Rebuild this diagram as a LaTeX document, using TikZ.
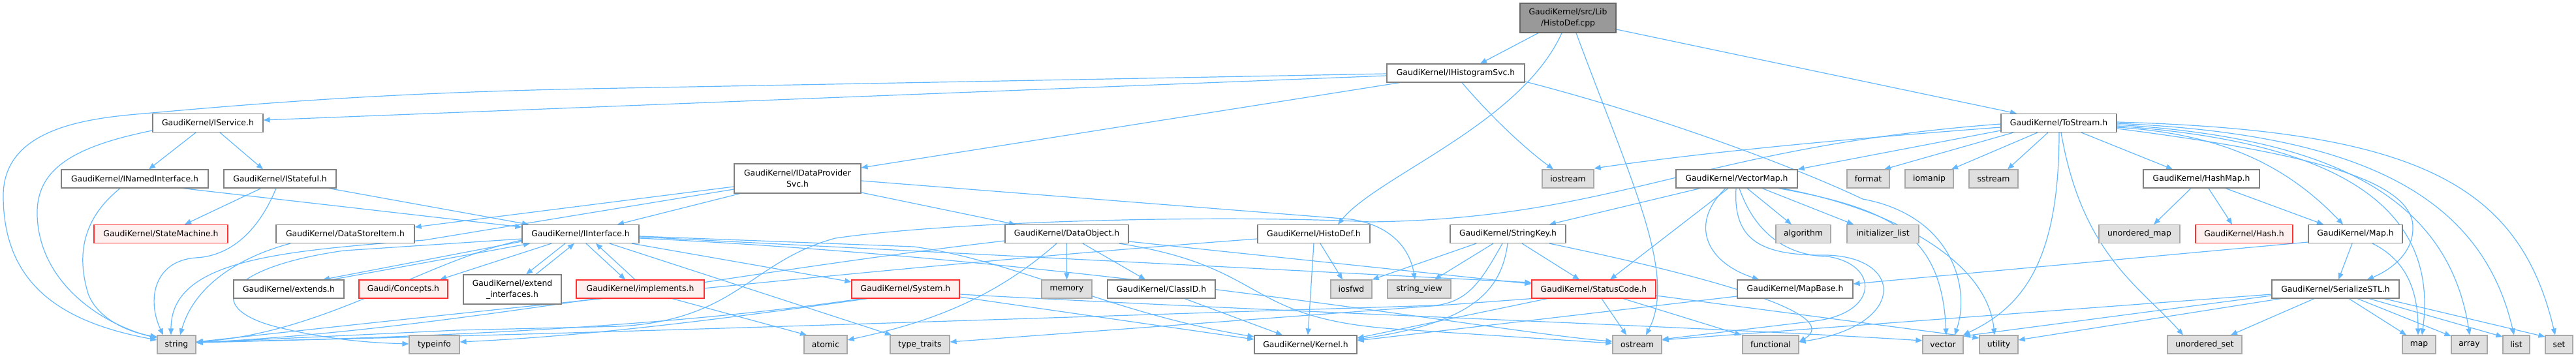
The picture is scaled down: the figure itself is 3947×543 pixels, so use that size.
\documentclass[tikz,border=0pt]{standalone}
\usepackage{fontspec}
\setmainfont{DejaVu Sans}
\usetikzlibrary{arrows.meta}
\definecolor{ec}{HTML}{63B8FF}
\definecolor{nbd}{HTML}{808080}
\definecolor{gbd}{HTML}{A8A8A8}
\definecolor{gfill}{HTML}{E0E0E0}
\definecolor{rbd}{HTML}{FF3030}
\definecolor{rfill}{HTML}{FFF0F0}
\definecolor{rootfill}{HTML}{999999}
\definecolor{rootbd}{HTML}{666666}
\pgfdeclarelayer{bg}
\pgfsetlayers{bg,main}
\begin{document}
\begin{tikzpicture}[x=0.5pt,y=-0.5pt,
  every node/.style={font=\fontsize{6.2}{8.7}\selectfont, inner sep=0pt, minimum height=14pt, line width=0.6pt, align=center},
  wn/.style={draw=nbd, fill=white},
  gn/.style={draw=gbd, fill=gfill},
  rn/.style={draw=rbd, fill=rfill},
  rootn/.style={draw=rootbd, fill=rootfill},
  e/.style={draw=ec, line width=0.6pt, -{Triangle[length=5pt,width=4pt]}}]
\useasboundingbox (0,0) rectangle (3947,543);
\node[rootn, minimum width=73.5pt, minimum height=22.5pt] (root) at (2402.5,27.5) {GaudiKernel/src/Lib\\/HistoDef.cpp};
\node[wn, minimum width=105.5pt] (ihs) at (2230.5,112) {GaudiKernel/IHistogramSvc.h};
\node[wn, minimum width=84.5pt] (isvc) at (318.5,188.5) {GaudiKernel/IService.h};
\node[wn, minimum width=112.5pt] (ini) at (206.5,274) {GaudiKernel/INamedInterface.h};
\node[wn, minimum width=86pt] (ist) at (429,274) {GaudiKernel/IStateful.h};
\node[rn, minimum width=102.5pt] (sm) at (246.5,358.5) {GaudiKernel/StateMachine.h};
\node[wn, minimum width=106pt] (dsi) at (529,358.5) {GaudiKernel/DataStoreItem.h};
\node[wn, minimum width=84.5pt] (ext) at (442.5,443) {GaudiKernel/extends.h};
\node[rn, minimum width=68pt] (conc) at (618,443) {Gaudi/Concepts.h};
\node[gn, minimum width=29.5pt] (str) at (270.5,528) {string};
\node[gn, minimum width=38.5pt] (tinfo) at (665.5,528) {typeinfo};
\node[wn, minimum width=97pt, minimum height=22.5pt] (idp) at (1222,273.5) {GaudiKernel/IDataProvider\\Svc.h};
\node[wn, minimum width=89.5pt] (iif) at (889.5,358.5) {GaudiKernel/IInterface.h};
\node[wn, minimum width=75pt, minimum height=22.5pt] (exti) at (785,443.5) {GaudiKernel/extend\\\_interfaces.h};
\node[rn, minimum width=98pt] (impl) at (981,443) {GaudiKernel/implements.h};
\node[rn, minimum width=82.5pt] (sys) at (1387.5,443) {GaudiKernel/System.h};
\node[gn, minimum width=33pt] (atom) at (1265,528) {atomic};
\node[gn, minimum width=45.5pt] (ttr) at (1409.5,528) {type\_traits};
\node[wn, minimum width=94.5pt] (dobj) at (1634.5,358.5) {GaudiKernel/DataObject.h};
\node[wn, minimum width=86pt] (hdef) at (2013,358.5) {GaudiKernel/HistoDef.h};
\node[gn, minimum width=38.5pt] (mem) at (1634.5,443) {memory};
\node[wn, minimum width=82.5pt] (cid) at (1779.5,443) {GaudiKernel/ClassID.h};
\node[gn, minimum width=31.5pt] (iosfwd) at (2070.5,443) {iosfwd};
\node[wn, minimum width=78.5pt] (kern) at (2000.5,528) {GaudiKernel/Kernel.h};
\node[gn, minimum width=39.5pt] (iostr) at (2402.5,274) {iostream};
\node[wn, minimum width=93pt] (vmap) at (2661,274) {GaudiKernel/VectorMap.h};
\node[wn, minimum width=88.5pt] (skey) at (2310.5,358.5) {GaudiKernel/StringKey.h};
\node[gn, minimum width=42pt] (algo) at (2763,358.5) {algorithm};
\node[gn, minimum width=48.5pt] (sview) at (2174.5,443) {string\_view};
\node[rn, minimum width=95pt] (scode) at (2442,443) {GaudiKernel/StatusCode.h};
\node[wn, minimum width=88.5pt] (mbase) at (2750.5,443) {GaudiKernel/MapBase.h};
\node[gn, minimum width=37.5pt] (ostr) at (2508.5,528) {ostream};
\node[gn, minimum width=43pt] (func) at (2713,528) {functional};
\node[wn, minimum width=88.5pt] (tostr) at (3154.5,188.5) {GaudiKernel/ToStream.h};
\node[gn, minimum width=32.5pt] (fmt) at (2862.5,274) {format};
\node[gn, minimum width=37pt] (iomanip) at (2956,274) {iomanip};
\node[gn, minimum width=37.5pt] (sstr) at (3054.5,274) {sstream};
\node[wn, minimum width=89pt] (hmap) at (3373,274) {GaudiKernel/HashMap.h};
\node[gn, minimum width=55pt] (ilist) at (2885,358.5) {initializer\_list};
\node[gn, minimum width=62pt] (umap) at (3278,358.5) {unordered\_map};
\node[rn, minimum width=74.5pt] (hash) at (3438.5,358.5) {GaudiKernel/Hash.h};
\node[wn, minimum width=72pt] (maph) at (3609,358.5) {GaudiKernel/Map.h};
\node[wn, minimum width=97.5pt] (sstl) at (3578.5,443) {GaudiKernel/SerializeSTL.h};
\node[gn, minimum width=31pt] (vec) at (2977,528) {vector};
\node[gn, minimum width=29.5pt] (util) at (3062.5,528) {utility};
\node[gn, minimum width=57pt] (uset) at (3378,528) {unordered\_set};
\node[gn, minimum width=25.5pt] (mapst) at (3706.5,528) {map};
\node[gn, minimum width=27.5pt] (arr) at (3783.5,528) {array};
\node[gn, minimum width=20.5pt] (lst) at (3855.5,528) {list};
\node[gn, minimum width=21pt] (set) at (3921,528) {set};
\begin{pgfonlayer}{bg}
% root
\draw[e] (root.south -| 2357,0) -- (ihs.north -| 2268,0);
\draw[e] (root.south -| 2393,0) .. controls (2330,190) and (2110,270) .. (hdef.north -| 2050,0);
\draw[e] (root.south -| 2415,0) .. controls (2500,280) and (2570,420) .. (ostr.north -| 2522,0);
\draw[e] (root.east |- 0,45) -- (tostr.north -| 3090,0);
% IHistogramSvc
\draw[e] (ihs.west |- 0,116) -- (isvc.east |- 0,184);
\draw[e] (ihs.west |- 0,113) -- (900,136) .. controls (600,142) and (400,158) .. (232,173) .. controls (150,180) and (5,190) .. (5,300) .. controls (5,440) and (100,495) .. (str.west |- 0,521);
\draw[e] (ihs.south -| 2145,0) -- (idp.east |- 0,257);
\draw[e] (ihs.south -| 2240,0) .. controls (2290,185) and (2340,230) .. (iostr.north -| 2380,0);
\draw[e] (ihs.east |- 0,125) .. controls (2550,180) and (2760,260) .. (2854,305) .. controls (2990,330) and (3020,440) .. (vec.north -| 2995,0);
% IService
\draw[e] (isvc.south -| 300,0) -- (ini.north -| 228,0);
\draw[e] (isvc.south -| 337,0) -- (ist.north -| 403,0);
\draw[e] (isvc.west |- 0,200) .. controls (110,225) and (55,260) .. (57,330) .. controls (60,430) and (150,495) .. (str.west |- 0,518);
% INamedInterface
\draw[e] (ini.south -| 184,0) .. controls (120,340) and (120,400) .. (135,450) .. controls (150,490) and (200,510) .. (str.west |- 0,516);
\draw[e] (ini.south -| 280,0) -- (iif.west |- 0,348);
% IStateful
\draw[e] (ist.south -| 400,0) -- (sm.north -| 283,0);
\draw[e] (ist.south -| 423,0) .. controls (400,345) and (360,392) .. (300,395) .. controls (235,400) and (225,460) .. (str.north -| 250,0);
\draw[e] (ist.south -| 504,0) -- (iif.north -| 810,0);
% IDataProviderSvc
\draw[e] (idp.west |- 0,286) -- (dsi.east |- 0,348);
\draw[e] (idp.south -| 1134,0) -- (iif.north -| 946,0);
\draw[e] (idp.west |- 0,290) -- (650,368) .. controls (420,385) and (262,400) .. (str.north -| 262,0);
\draw[e] (idp.east |- 0,295) -- (dobj.north -| 1556,0);
\draw[e] (idp.east |- 0,277) -- (2070,336) .. controls (2130,345) and (2160,380) .. (sview.north -| 2168,0);
% DataStoreItem
\draw[e] (dsi.south -| 445,0) .. controls (380,390) and (300,430) .. (str.north -| 276,0);
% IInterface
\draw[e] (iif.south -| 866,0) -- (exti.north -| 806,0);
\draw[e] (exti.north -| 821,0) -- (iif.south -| 880,0);
\draw[e] (iif.south -| 898,0) -- (impl.north -| 958,0);
\draw[e] (impl.north -| 973,0) -- (iif.south -| 913,0);
\draw[e] (iif.west |- 0,370) -- (ext.north -| 495,0);
\draw[e] (ext.north -| 509,0) -- (iif.south -| 812,0);
\draw[e] (iif.south -| 845,0) -- (conc.north -| 674,0);
\draw[e] (iif.south -| 968,0) -- (sys.west |- 0,432);
\draw[e] (iif.south -| 934,0) -- (ttr.north -| 1366,0);
\draw[e] (iif.east |- 0,362) -- (1400,378) .. controls (1560,400) and (1700,480) .. (kern.west |- 0,516);
\draw[e] (iif.east |- 0,363) -- (scode.west |- 0,433);
\draw[e] (iif.east |- 0,365) .. controls (1700,400) and (2300,510) .. (ostr.west |- 0,523);
\draw[e] (iif.west |- 0,368) .. controls (650,400) and (500,510) .. (str.east |- 0,524);
\draw[e] (iif.west |- 0,366) -- (527,384) .. controls (345,410) and (310,470) .. (420,500) .. controls (500,520) and (560,525) .. (tinfo.west |- 0,527);
% implements
\draw[e] (impl.south -| 1030,0) -- (atom.north -| 1236,0);
% System
\draw[e] (sys.east |- 0,455) -- (kern.west |- 0,520);
\draw[e] (sys.south -| 1329,0) .. controls (1100,490) and (900,515) .. (tinfo.east |- 0,524);
\draw[e] (sys.south -| 1320,0) .. controls (1000,505) and (600,518) .. (str.east |- 0,525);
\draw[e] (sys.east |- 0,451) .. controls (2000,480) and (2600,500) .. (vec.west |- 0,522);
% DataObject
\draw[e] (dobj.south) -- (mem.north);
\draw[e] (dobj.south -| 1659,0) -- (cid.north -| 1755,0);
\draw[e] (dobj.west |- 0,369) .. controls (1100,420) and (700,505) .. (str.east |- 0,525);
\draw[e] (dobj.south -| 1619,0) .. controls (1520,460) and (1420,495) .. (atom.east |- 0,521);
\draw[e] (dobj.east |- 0,370) -- (scode.west |- 0,435);
\draw[e] (dobj.south -| 1715,0) .. controls (1950,410) and (1900,490) .. (2150,505) -- (ostr.west |- 0,526);
% ClassID
\draw[e] (cid.south -| 1815,0) -- (kern.north -| 1965,0);
% HistoDef
\draw[e] (hdef.south -| 2013,0) -- (kern.north -| 2004,0);
\draw[e] (hdef.south -| 2023,0) -- (iosfwd.north -| 2057,0);
\draw[e] (hdef.west |- 0,366) .. controls (1400,405) and (700,480) .. (str.east |- 0,524);
% StringKey
\draw[e] (skey.south -| 2262,0) -- (iosfwd.north east);
\draw[e] (skey.south -| 2288,0) -- (sview.north -| 2198,0);
\draw[e] (skey.south -| 2332,0) -- (scode.north -| 2420,0);
\draw[e] (skey.south -| 2302,0) .. controls (2270,430) and (2250,462) .. (2200,468) .. controls (1500,490) and (800,515) .. (str.east |- 0,524);
\draw[e] (skey.south -| 2310,0) .. controls (2300,450) and (2250,495) .. (kern.east |- 0,520);
\draw[e] (skey.south -| 2374,0) .. controls (2600,420) and (2830,480) .. (func.east |- 0,524);
% StatusCode
\draw[e] (scode.south -| 2454,0) -- (ostr.north -| 2492,0);
\draw[e] (scode.south -| 2487,0) -- (func.north -| 2668,0);
\draw[e] (scode.south -| 2371,0) -- (kern.east |- 0,518);
\draw[e] (scode.south west) -- (ttr.east |- 0,524);
\draw[e] (scode.east |- 0,453) -- (util.west |- 0,518);
% VectorMap
\draw[e] (vmap.south -| 2605,0) -- (skey.north -| 2374,0);
\draw[e] (vmap.south -| 2648,0) -- (scode.north -| 2467,0);
\draw[e] (vmap.south -| 2644,0) .. controls (2590,340) and (2610,400) .. (mbase.north -| 2695,0);
\draw[e] (vmap.south -| 2677,0) -- (algo.north -| 2745,0);
\draw[e] (vmap.south -| 2700,0) -- (ilist.north -| 2840,0);
\draw[e] (vmap.south -| 2725,0) .. controls (2900,320) and (2975,360) .. (vec.north -| 2982,0);
\draw[e] (vmap.south -| 2730,0) .. controls (2900,320) and (3045,400) .. (util.north -| 3056,0);
\draw[e] (vmap.south -| 2660,0) .. controls (2655,370) and (2700,392) .. (2800,391) .. controls (2920,395) and (2920,500) .. (func.east |- 0,524);
\draw[e] (vmap.south -| 2665,0) .. controls (2690,360) and (2740,392) .. (2800,393) .. controls (2880,405) and (2880,480) .. (2780,492) -- (ostr.east |- 0,520);
% MapBase
\draw[e] (mbase.west |- 0,454) -- (kern.east |- 0,522);
% HashMap
\draw[e] (hmap.south -| 3357,0) -- (umap.north -| 3300,0);
\draw[e] (hmap.south -| 3384,0) -- (hash.north -| 3420,0);
\draw[e] (hmap.south -| 3410,0) -- (maph.north -| 3560,0);
% Map
\draw[e] (maph.west |- 0,371) -- (mbase.east |- 0,435);
\draw[e] (maph.south -| 3604,0) -- (sstl.north -| 3583,0);
\draw[e] (maph.south -| 3635,0) .. controls (3690,400) and (3705,450) .. (mapst.north -| 3705,0);
% SerializeSTL
\draw[e] (sstl.south -| 3546,0) -- (uset.north -| 3418,0);
\draw[e] (sstl.south -| 3599,0) -- (mapst.north -| 3687,0);
\draw[e] (sstl.south -| 3612,0) -- (arr.west |- 0,515);
\draw[e] (sstl.south -| 3630,0) -- (lst.west |- 0,516);
\draw[e] (sstl.south -| 3653,0) -- (set.west |- 0,516);
\draw[e] (sstl.west |- 0,453) -- (vec.east |- 0,515);
\draw[e] (sstl.south -| 3495,0) -- (util.east |- 0,521);
\draw[e] (sstl.west |- 0,451) -- (ostr.east |- 0,521);
% ToStream
\draw[e] (tostr.south -| 3085,0) -- (fmt.north -| 2887,0);
\draw[e] (tostr.south -| 3122,0) -- (iomanip.north -| 2990,0);
\draw[e] (tostr.south -| 3138,0) -- (sstr.north -| 3076,0);
\draw[e] (tostr.south -| 3189,0) -- (hmap.north -| 3329,0);
\draw[e] (tostr.west |- 0,200) -- (vmap.north east);
\draw[e] (tostr.west |- 0,195) .. controls (2800,215) and (2600,235) .. (iostr.east |- 0,258);
\draw[e] (tostr.west |- 0,190) .. controls (2600,225) and (2480,335) .. (2100,340) .. controls (1850,328) and (1450,340) .. (1280,365) .. controls (1150,400) and (1130,490) .. (950,500) -- (700,506) -- (str.east |- 0,525);
\draw[e] (tostr.south -| 3155,0) .. controls (3155,400) and (3100,470) .. (vec.north -| 3008,0);
\draw[e] (tostr.south -| 3158,0) .. controls (3190,390) and (3280,440) .. (uset.north -| 3345,0);
\draw[e] (tostr.east |- 0,195) .. controls (3400,205) and (3500,250) .. (maph.north -| 3590,0);
\draw[e] (tostr.east |- 0,197) .. controls (3500,230) and (3700,270) .. (3697,350) .. controls (3697,390) and (3660,415) .. (sstl.north -| 3627,0);
\draw[e] (tostr.east |- 0,193) .. controls (3550,215) and (3740,300) .. (mapst.north -| 3711,0);
\draw[e] (tostr.east |- 0,191) .. controls (3550,210) and (3750,290) .. (arr.north -| 3784,0);
\draw[e] (tostr.east |- 0,189) .. controls (3600,205) and (3800,290) .. (lst.north -| 3852,0);
\draw[e] (tostr.east |- 0,187) .. controls (3700,200) and (3860,280) .. (set.north -| 3915,0);
\end{pgfonlayer}
\end{tikzpicture}
\end{document}
